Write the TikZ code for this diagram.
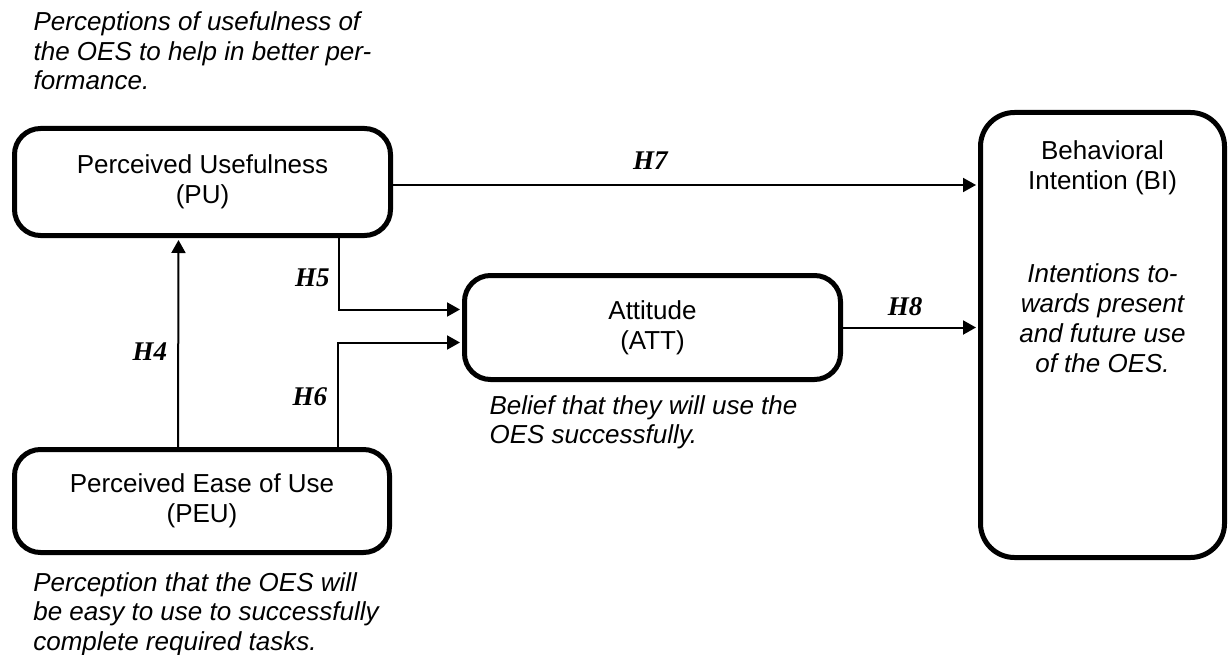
\documentclass[tikz,border=0pt]{standalone}
\usepackage{fontspec}
\setmainfont{Liberation Sans}
\newfontfamily\hypfont{Liberation Serif}
\usetikzlibrary{arrows.meta,positioning}

\tikzset{
  construct/.style={draw, line width=5pt, rounded corners=26pt, align=center,
    inner sep=0pt, font=\fontsize{26}{30}\selectfont},
  desc/.style={inner sep=0pt, font=\fontsize{26}{29.5}\selectfont\itshape},
  link/.style={line width=2pt, shorten >=2pt, -{Triangle[length=13pt,width=14pt]}},
  hyp/.style={inner sep=0pt, font=\hypfont\fontsize{27}{30}\selectfont\bfseries\itshape}
}

\begin{document}
\begin{tikzpicture}[x=1pt,y=-1pt]
  \useasboundingbox (0,0) rectangle (1228,655);
  % constructs
  \node[construct, minimum width=376pt, minimum height=107pt] (pu) at (202.5,182) {Perceived Usefulness\\(PU)};
  \node[construct, minimum width=375pt, minimum height=103pt] (peu) at (202,501) {Perceived Ease of Use\\(PEU)};
  \node[construct, minimum width=376pt, minimum height=104pt] (att) at (652.5,327.5) {Attitude\\(ATT)};
  \node[construct, rounded corners=34pt, minimum width=244pt, minimum height=445pt] (bi) at (1102.5,335) {};
  \node[inner sep=0pt, align=center, font=\fontsize{26}{30}\selectfont, below=30pt of bi.north] (bititle) {Behavioral\\Intention (BI)};
  % descriptions
  \node[desc, align=left, above=36pt of pu] (pudesc) {Perceptions of usefulness of\\the OES to help in better per-\\formance.};
  \node[desc, align=left, below=17pt of peu, xshift=4pt] (peudesc) {Perception that the OES will\\be easy to use to successfully\\complete required tasks.};
  \node[desc, align=left, below=13pt of att, xshift=-9pt] (attdesc) {Belief that they will use the\\OES successfully.};
  \node[desc, align=center, font=\fontsize{26}{30}\selectfont\itshape, below=69pt of bititle] (bidesc) {Intentions to-\\wards present\\and future use\\of the OES.};
  % hypotheses
  \draw[link] ([xshift=-24pt]peu.north) -- node[hyp, pos=0.457, left=10pt] {H4} ([xshift=-24pt]pu.south);
  \draw[link] ([xshift=136pt]pu.south) |- node[hyp, pos=0.28, left=8pt] {H5} ([yshift=18pt]att.west);
  \draw[link] ([xshift=136pt]peu.north) |- node[hyp, pos=0.243, left=10pt] {H6} ([yshift=-15pt]att.west);
  \draw[link] ([yshift=-3pt]pu.east) -- node[hyp, pos=0.44, above=14pt] {H7} ([yshift=-3pt]pu.east -| bi.west);
  \draw[link] (att.east) -- node[hyp, pos=0.46, above=11pt] {H8} (att.east -| bi.west);
\end{tikzpicture}
\end{document}
